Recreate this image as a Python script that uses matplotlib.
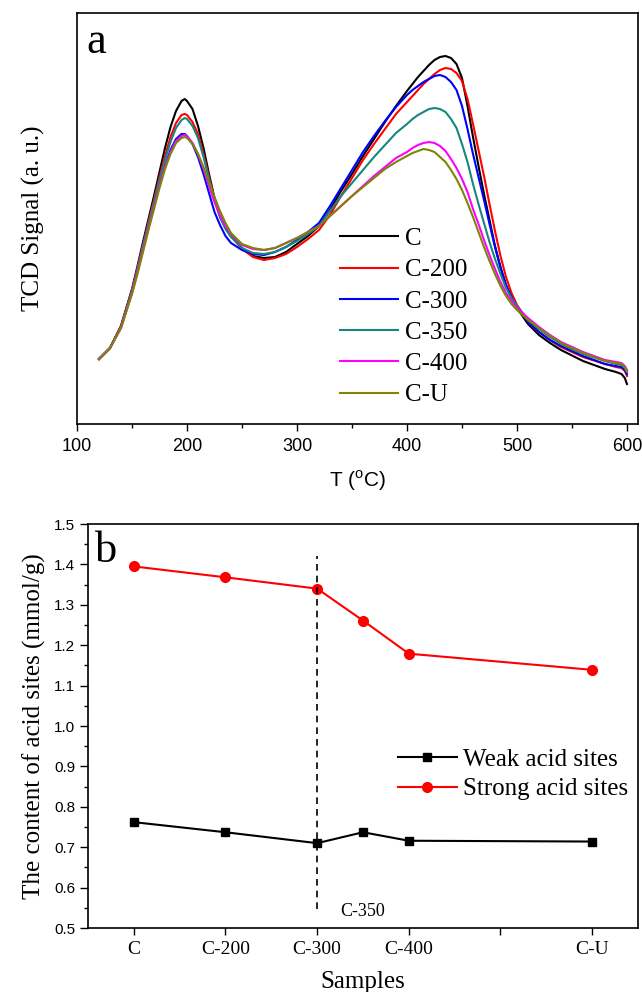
import matplotlib
matplotlib.use("Agg")
import matplotlib.pyplot as plt
from matplotlib.ticker import MultipleLocator, FixedLocator

# ---- panel a: NH3-TPD curves (signal in arbitrary units)
T = [120, 130, 140, 150, 155, 160, 165, 170, 175, 180, 185, 190, 195, 198, 200,
     205, 210, 215, 220, 225, 230, 235, 240, 250, 260, 270, 280, 290, 300, 310,
     320, 330, 340, 350, 360, 370, 380, 390, 400, 405, 410, 415, 420, 425, 430,
     435, 440, 445, 450, 455, 460, 465, 470, 475, 480, 485, 490, 495, 500, 510,
     520, 530, 540, 560, 580, 590, 595, 598, 600]

sig_C = [65, 76, 98, 135, 158, 182, 205, 228, 252, 276, 297, 313, 323, 325, 323,
         315, 298, 276, 250, 226, 208, 197, 189, 176, 168, 166, 167, 172, 180, 188,
         198, 214, 233, 250, 268, 285, 302, 318, 333, 340, 347, 353, 359, 364, 367,
         368, 366, 360, 346, 318, 287, 258, 230, 204, 178, 157, 139, 126, 116, 100,
         89, 81, 74, 63, 55, 52, 50, 46, 40]
sig_C200 = [65, 76, 98, 134, 156, 179, 202, 224, 247, 268, 287, 301, 309, 310, 309,
            302, 290, 270, 247, 224, 207, 196, 188, 175, 167, 164, 166, 170, 177, 185,
            194, 209, 228, 246, 264, 280, 295, 310, 322, 328, 334, 340, 345, 350, 354,
            356, 355, 351, 343, 325, 300, 274, 248, 220, 193, 168, 147, 131, 119, 103,
            92, 84, 77, 67, 60, 57, 56, 53, 48]
sig_C300 = [65, 76, 97, 132, 153, 175, 197, 218, 239, 258, 274, 285, 290, 290, 288,
            280, 267, 250, 231, 212, 199, 188, 181, 174, 170, 169, 172, 177, 184, 192,
            201, 218, 236, 254, 272, 288, 303, 317, 329, 334, 338, 342, 345, 348, 349,
            347, 342, 334, 318, 295, 270, 247, 224, 200, 177, 156, 139, 127, 117, 102,
            92, 84, 78, 68, 60, 58, 57, 54, 50]
sig_C350 = [65, 76, 97, 133, 155, 178, 200, 222, 244, 264, 282, 296, 304, 306, 305,
            298, 286, 267, 245, 224, 207, 195, 187, 176, 171, 170, 172, 177, 183, 190,
            198, 213, 228, 241, 254, 267, 279, 291, 300, 305, 309, 312, 315, 316, 315,
            312, 305, 296, 280, 262, 240, 220, 201, 182, 165, 150, 136, 126, 118, 104,
            95, 87, 80, 70, 63, 60, 59, 56, 52]
sig_C400 = [65, 76, 96, 131, 152, 174, 196, 217, 238, 257, 272, 283, 288, 289, 288,
            281, 270, 255, 238, 222, 209, 198, 190, 179, 175, 174, 176, 181, 186, 192,
            198, 208, 218, 228, 238, 248, 257, 266, 272, 276, 279, 281, 282, 281, 278,
            273, 265, 256, 245, 232, 215, 200, 184, 169, 155, 142, 131, 123, 116, 106,
            97, 89, 82, 72, 64, 62, 61, 58, 54]
sig_CU = [65, 76, 96, 130, 150, 172, 194, 215, 236, 255, 270, 281, 286, 287, 286,
          280, 270, 257, 242, 227, 213, 201, 191, 180, 176, 174, 176, 181, 186, 192,
          198, 208, 218, 228, 237, 246, 255, 262, 268, 271, 273, 275, 274, 272, 267,
          262, 254, 245, 234, 221, 207, 192, 177, 163, 150, 138, 128, 120, 114, 104,
          96, 88, 81, 71, 63, 61, 60, 57, 53]

tpd_labels = ["C", "C-200", "C-300", "C-350", "C-400", "C-U"]
tpd_colors = ["#000000", "#ff0000", "#0000ff", "#16877d", "#ff00ff", "#7f8500"]

# ---- panel b: acid site content
samples = ["C", "C-200", "C-300", "C-350", "C-400", "C-U"]
sample_pos = [0, 1, 2, 2.5, 3, 5]
weak = [0.762, 0.737, 0.710, 0.737, 0.716, 0.714]
strong = [1.395, 1.368, 1.340, 1.261, 1.179, 1.139]
tick_pos = [0, 1, 2, 3, 4, 5]
tick_labels = ["C", "C-200", "C-300", "C-400", "", "C-U"]

serif = "Liberation Serif"
sans = "Liberation Sans"

fig = plt.figure(figsize=(6.42, 9.92), dpi=100)

# panel a
ax1 = fig.add_axes([77 / 642, 1 - 424 / 992, 561 / 642, 411 / 992])
curves = [sig_C, sig_C200, sig_C300, sig_C350, sig_C400, sig_CU]
for y, lab, col in zip(curves, tpd_labels, tpd_colors):
    ax1.plot(T, y, color=col, lw=1.5, label=lab)
ax1.set_xlim(100, 610)
ax1.set_ylim(0, 411)
ax1.set_yticks([])
ax1.xaxis.set_major_locator(MultipleLocator(100))
ax1.xaxis.set_minor_locator(MultipleLocator(50))
ax1.tick_params(axis="x", which="both", direction="out", top=False, labelsize=13, pad=5)
ax1.tick_params(axis="x", which="major", length=5, width=1)
ax1.tick_params(axis="x", which="minor", length=3, width=1)
for lab in ax1.get_xticklabels():
    lab.set_fontfamily(sans)
ax1.set_xlabel(r"T ($^\mathregular{o}$C)", fontfamily=sans, fontsize=15, labelpad=10)
ax1.set_ylabel("TCD Signal (a. u.)", fontfamily=serif, fontsize=18, labelpad=23)
ax1.text(0.017, 0.903, "a", transform=ax1.transAxes, fontfamily=serif, fontsize=32,
         va="baseline")
ax1.legend(loc="upper left", bbox_to_anchor=(0.469, 0.478), frameon=False,
           prop={"family": serif, "size": 18}, handlelength=2.3,
           handletextpad=0.3, labelspacing=0.35, borderpad=0, borderaxespad=0)
for s in ax1.spines.values():
    s.set_linewidth(1.2)

# panel b
ax2 = fig.add_axes([88 / 642, 1 - 928 / 992, 550 / 642, 404 / 992])
ax2.plot(sample_pos, weak, color="black", lw=1.5, marker="s", ms=6,
         label="Weak acid sites")
ax2.plot(sample_pos, strong, color="red", lw=1.5, marker="o", ms=7,
         label="Strong acid sites")
ax2.plot([2, 2], [0.547, 1.42], color="black", lw=1.2, ls=(0, (4, 3)))
ax2.text(2.5, 0.542, "C-350", fontfamily=serif, fontsize=13, ha="center", va="center")
ax2.set_xlim(-0.5, 5.5)
ax2.set_ylim(0.5, 1.5)
ax2.xaxis.set_major_locator(FixedLocator(tick_pos))
ax2.set_xticklabels(tick_labels, fontfamily=serif, fontsize=14)
ax2.yaxis.set_major_locator(MultipleLocator(0.1))
ax2.yaxis.set_minor_locator(MultipleLocator(0.05))
ax2.tick_params(axis="both", which="both", direction="out", top=False, right=False)
ax2.tick_params(axis="x", which="major", length=5, width=1, pad=4)
ax2.tick_params(axis="y", which="major", length=6, width=1, labelsize=11, pad=3)
ax2.tick_params(axis="y", which="minor", length=3, width=1)
for lab in ax2.get_yticklabels():
    lab.set_fontfamily(sans)
ax2.set_xlabel("Samples", fontfamily=serif, fontsize=18, labelpad=9.5)
ax2.set_ylabel("The content of acid sites (mmol/g)", fontfamily=serif, fontsize=18,
               labelpad=6)
ax2.text(0.012, 0.906, "b", transform=ax2.transAxes, fontfamily=serif, fontsize=32,
         va="baseline")
ax2.legend(loc="upper left", bbox_to_anchor=(0.5636, 0.445), frameon=False,
           prop={"family": serif, "size": 18}, handlelength=2.35, handletextpad=0.24,
           labelspacing=0.29, borderpad=0, borderaxespad=0)
for s in ax2.spines.values():
    s.set_linewidth(1.2)

fig.savefig("out.png", dpi=100)
